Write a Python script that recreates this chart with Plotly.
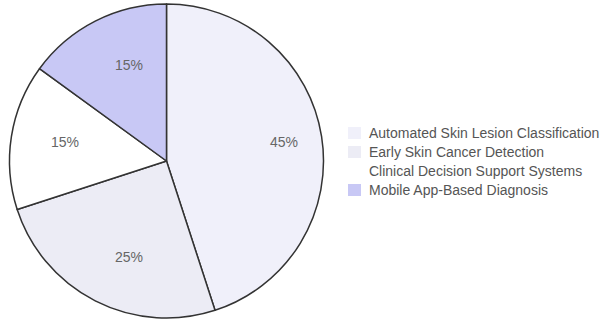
import numpy as np
import plotly.graph_objects as go

categories = [
    "Automated Skin Lesion Classification",
    "Early Skin Cancer Detection",
    "Clinical Decision Support Systems",
    "Mobile App-Based Diagnosis",
]
shares = [45, 25, 15, 15]
slice_colors = ["#f0f0fa", "#ececf5", "#ffffff", "#c8c8f5"]

W, H = 603, 321
FONT = "Liberation Sans, Arial, sans-serif"

# pie geometry in pixels
cx, cy, R = 166.5, 161.0, 157.0
label_r = 118.5

fig = go.Figure()
fig.add_trace(
    go.Pie(
        labels=categories,
        values=shares,
        sort=False,
        direction="clockwise",
        rotation=0,
        marker=dict(colors=slice_colors, line=dict(color="#333333", width=1.5)),
        textinfo="none",
        showlegend=False,
        domain=dict(
            x=[(cx - R) / W, (cx + R) / W],
            y=[max(0, 1 - (cy + R) / H), min(1, 1 - (cy - R) / H)],
        ),
        hoverinfo="label+percent",
    )
)

# percentage labels placed along each slice's mid-angle
vals = np.array(shares, dtype=float)
frac = vals / vals.sum()
mid = (np.cumsum(frac) - frac / 2) * 2 * np.pi  # clockwise from 12 o'clock
for v, a in zip(shares, mid):
    px = cx + label_r * np.sin(a)
    py = cy - label_r * np.cos(a)
    fig.add_annotation(
        x=px / W, y=1 - py / H, xref="paper", yref="paper",
        text=f"{v}%", showarrow=False,
        font=dict(family=FONT, size=14, color="#666666"),
    )

# legend: filled squares and category names
leg_x, leg_y0, leg_step = 348.0, 133.0, 19.0
for i, (name, col) in enumerate(zip(categories, slice_colors)):
    yc = leg_y0 + i * leg_step
    fig.add_shape(
        type="rect", xref="paper", yref="paper",
        x0=leg_x / W, x1=(leg_x + 13) / W,
        y0=1 - (yc + 6) / H, y1=1 - (yc - 6) / H,
        fillcolor=col, line=dict(width=0),
    )
    fig.add_annotation(
        x=367 / W, y=1 - yc / H, xref="paper", yref="paper",
        xanchor="left", yanchor="middle", text=name, showarrow=False,
        font=dict(family=FONT, size=14, color="#555555"),
    )

fig.update_layout(
    width=W,
    height=H,
    margin=dict(l=0, r=0, t=0, b=0),
    paper_bgcolor="white",
    plot_bgcolor="white",
    showlegend=False,
)

fig.write_html("out.html")
